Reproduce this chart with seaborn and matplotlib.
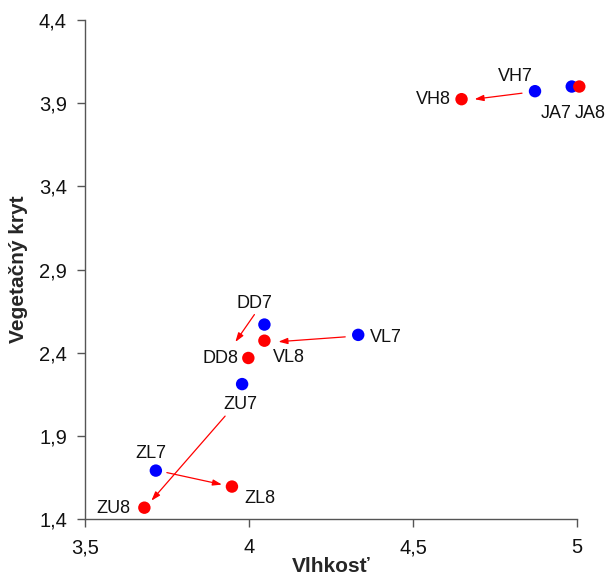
"""
Vegetačný kryt vs. vlhkosť - posun plôch medzi rokmi 7 a 8
"""

import numpy as np
import pandas as pd
import matplotlib
matplotlib.use("Agg")
import matplotlib.pyplot as plt
import seaborn as sns

# data
names_7 = ["VH7", "JA7", "DD7", "VL7", "ZU7", "ZL7"]
vlhkost_7 = [4.872, 4.984, 4.047, 4.333, 3.979, 3.716]
kryt_7 = [3.972, 4.000, 2.569, 2.507, 2.211, 1.691]

names_8 = ["VH8", "JA8", "DD8", "VL8", "ZU8", "ZL8"]
vlhkost_8 = [4.648, 5.007, 3.998, 4.047, 3.681, 3.948]
kryt_8 = [3.924, 4.000, 2.368, 2.472, 1.468, 1.595]

x_ticks = [3.5, 4, 4.5, 5]
y_ticks = [1.4, 1.9, 2.4, 2.9, 3.4, 3.9, 4.4]

# which pairs get an arrow (7 -> 8)
arrow_pairs = [("VH7", "VH8"), ("VL7", "VL8"), ("DD7", "DD8"), ("ZU7", "ZU8"), ("ZL7", "ZL8")]

# label placement: offset in pixels (dx right, dy down) and horizontal alignment
label_pos = {
    "VH7": (-20, -15, "center"), "JA7": (-16, 27, "center"), "DD7": (-10, -21, "center"),
    "VL7": (12, 3, "left"), "ZU7": (-2, 20, "center"), "ZL7": (-5, -17, "center"),
    "VH8": (-11, 0, "right"), "JA8": (11, 27, "center"), "DD8": (-10, 1, "right"),
    "VL8": (9, 17, "left"), "ZU8": (-14, 1, "right"), "ZL8": (28, 12, "center"),
}
# arrow tail offset from 7-point, head offset from 8-point (pixels, dy down)
arrow_off = {
    "VH7": ((-13, 2), (13, 0)), "VL7": ((-13, 2), (14, 1)), "DD7": ((-10, -10), (-13, -16)),
    "ZU7": ((-17, 32), (7, -7)), "ZL7": ((11, 2), (-10, -2)),
}

df = pd.DataFrame({
    "name": names_7 + names_8,
    "vlhkost": vlhkost_7 + vlhkost_8,
    "kryt": kryt_7 + kryt_8,
    "rok": ["7"] * len(names_7) + ["8"] * len(names_8),
})

sns.set_theme(style="white")
plt.rcParams["font.family"] = ["Liberation Sans", "DejaVu Sans"]

fig = plt.figure(figsize=(6.06, 5.81), dpi=100)
ax = fig.add_axes([85 / 606, 62 / 581, 492 / 606, 499 / 581])

sns.scatterplot(data=df, x="vlhkost", y="kryt", hue="rok",
                palette={"7": "#0000ff", "8": "#ff0000"},
                s=80, linewidth=0, legend=False, clip_on=False, ax=ax, zorder=3)

ax.set_xlim(3.5, 5)
ax.set_ylim(1.4, 4.4)
ax.set_xticks(x_ticks)
ax.set_yticks(y_ticks)
ax.set_xticklabels([f"{v:g}".replace(".", ",") for v in x_ticks])
ax.set_yticklabels([f"{v:.1f}".replace(".", ",") for v in y_ticks])
ax.tick_params(axis="both", which="major", direction="out", length=6, width=1,
               bottom=True, left=True, color="#555555", labelsize=14.5,
               labelcolor="#111111", pad=7)
ax.tick_params(axis="x", pad=8)

sns.despine(ax=ax)
for side in ["left", "bottom"]:
    ax.spines[side].set_color("#555555")
    ax.spines[side].set_linewidth(1)

ax.set_xlabel("Vlhkosť", fontsize=15, fontweight="bold", labelpad=0)
ax.set_ylabel("Vegetačný kryt", fontsize=15, fontweight="bold", labelpad=8)

# point labels
for _, row in df.iterrows():
    dx, dy, ha = label_pos[row["name"]]
    ax.annotate(row["name"], (row["vlhkost"], row["kryt"]), xytext=(dx * 0.72, -dy * 0.72),
                textcoords="offset points", ha=ha, va="center", fontsize=13,
                color="#111111", annotation_clip=False)

# arrows between years
pts = df.set_index("name")
for a, b in arrow_pairs:
    p7 = ax.transData.transform((pts.loc[a, "vlhkost"], pts.loc[a, "kryt"]))
    p8 = ax.transData.transform((pts.loc[b, "vlhkost"], pts.loc[b, "kryt"]))
    (tx, ty), (hx, hy) = arrow_off[a]
    tail = (p7[0] + tx, p7[1] - ty)
    head = (p8[0] + hx, p8[1] - hy)
    ax.annotate("", xy=head, xycoords="figure pixels", xytext=tail, textcoords="figure pixels",
                arrowprops=dict(arrowstyle="-|>,head_length=0.45,head_width=0.15",
                                color="#ff0000", lw=0.9, shrinkA=0, shrinkB=0))

fig.savefig("out.png", dpi=100)
